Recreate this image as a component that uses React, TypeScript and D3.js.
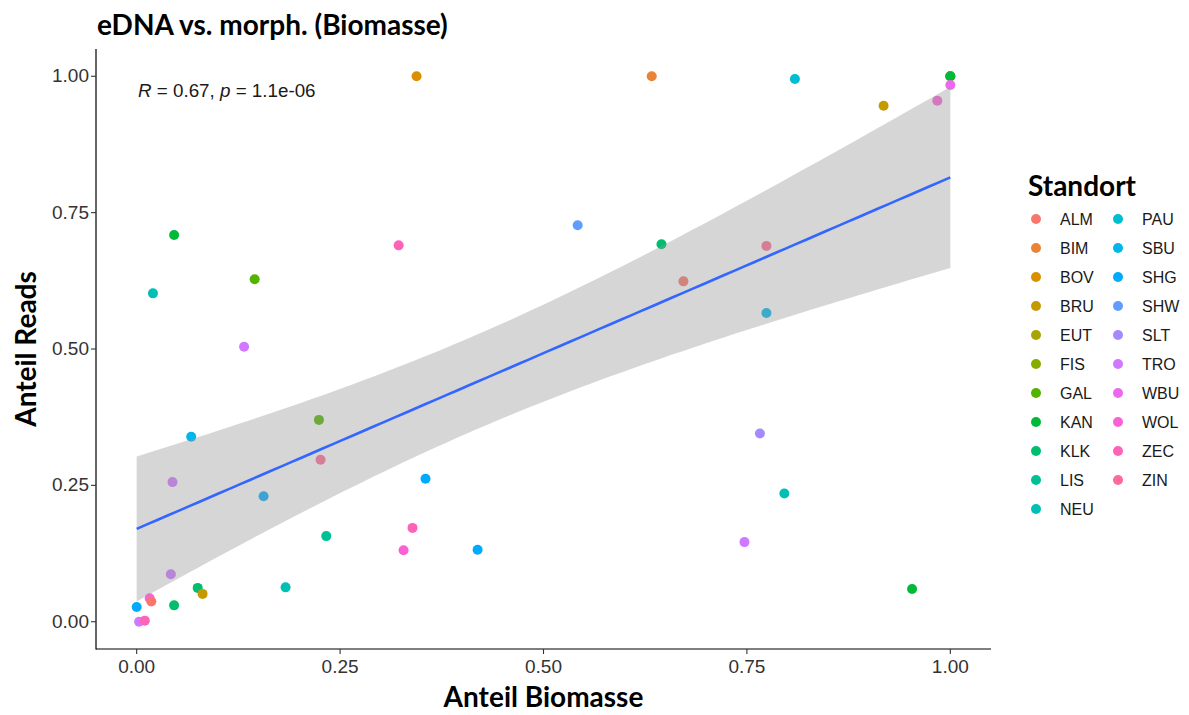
import React, { useMemo } from "react";
import * as d3 from "d3";

// Standort levels (ggplot default hue palette order)
const sites = [
  "ALM", "BIM", "BOV", "BRU", "EUT", "FIS", "GAL", "KAN", "KLK", "LIS", "NEU",
  "PAU", "SBU", "SHG", "SHW", "SLT", "TRO", "WBU", "WOL", "ZEC", "ZIN",
];

// points; EUT and FIS are hidden under KAN at (1, 1)
const pointSite = [
  "EUT", "FIS",
  "SHG", "TRO", "ZEC", "WOL", "ALM", "TRO", "KLK", "KLK", "BRU", "NEU",
  "TRO", "SBU", "SHG", "ZIN", "GAL", "LIS", "ZEC", "WOL", "SHG", "SHG",
  "KAN", "NEU", "GAL", "TRO", "ZEC", "BOV", "BIM", "PAU", "KAN", "WBU",
  "WOL", "BRU", "SHW", "KLK", "ZIN", "ALM", "SBU", "SLT", "NEU", "TRO",
  "KAN",
];
const biomasse = [
  1.0, 1.0,
  0.0, 0.003, 0.01, 0.016, 0.018, 0.042, 0.046, 0.075, 0.081, 0.183,
  0.044, 0.067, 0.156, 0.226, 0.224, 0.233, 0.339, 0.328, 0.355, 0.419,
  0.046, 0.02, 0.145, 0.132, 0.322, 0.344, 0.633, 0.809, 1.0, 1.0,
  0.984, 0.918, 0.542, 0.645, 0.774, 0.672, 0.774, 0.766, 0.796, 0.747,
  0.953,
];
const reads = [
  1.0, 1.0,
  0.027, 0.0, 0.002, 0.043, 0.037, 0.087, 0.03, 0.062, 0.051, 0.063,
  0.256, 0.339, 0.23, 0.297, 0.37, 0.157, 0.172, 0.131, 0.262, 0.132,
  0.709, 0.602, 0.628, 0.504, 0.69, 1.0, 1.0, 0.995, 1.0, 0.984,
  0.955, 0.946, 0.727, 0.692, 0.689, 0.624, 0.566, 0.345, 0.235, 0.146,
  0.06,
];

const xTicks = [0, 0.25, 0.5, 0.75, 1];
const yTicks = [0, 0.25, 0.5, 0.75, 1];

// R's hcl() (polar LUV) -> hex, like scales::hue_pal
function hclLuv(h: number, c: number, l: number) {
  const Xn = 95.047, Yn = 100, Zn = 108.883;
  const den = Xn + 15 * Yn + 3 * Zn;
  const un = (4 * Xn) / den, vn = (9 * Yn) / den;
  const rad = (h * Math.PI) / 180;
  const u = c * Math.cos(rad), v = c * Math.sin(rad);
  const Y = Yn * Math.pow((l + 16) / 116, 3);
  const up = u / (13 * l) + un, vp = v / (13 * l) + vn;
  const X = (Y * 9 * up) / (4 * vp);
  const Z = (Y * (12 - 3 * up - 20 * vp)) / (4 * vp);
  const x = X / 100, y = Y / 100, z = Z / 100;
  const lin = [
    3.2404542 * x - 1.5371385 * y - 0.4985314 * z,
    -0.969266 * x + 1.8760108 * y + 0.041556 * z,
    0.0556434 * x - 0.2040259 * y + 1.0572252 * z,
  ];
  const g = lin.map((t) => {
    const s = t <= 0.0031308 ? 12.92 * t : 1.055 * Math.pow(t, 1 / 2.4) - 0.055;
    return Math.round(Math.max(0, Math.min(1, s)) * 255);
  });
  return d3.rgb(g[0], g[1], g[2]).formatHex();
}

const palette = sites.map((_, i) => hclLuv(15 + (360 / sites.length) * i, 100, 65));

// 97.5% t quantile (Cornish-Fisher approx.)
function tQuant(df: number) {
  const z = 1.959964;
  return (
    z +
    (z ** 3 + z) / (4 * df) +
    (5 * z ** 5 + 16 * z ** 3 + 3 * z) / (96 * df * df) +
    (3 * z ** 7 + 19 * z ** 5 + 17 * z ** 3 - 15 * z) / (384 * df ** 3)
  );
}

const W = 1189;
const H = 715;
const M = { left: 96, right: 991, top: 49, bottom: 649 };

export default function App() {
  const x = d3.scaleLinear().domain([-0.05, 1.05]).range([M.left, M.right]);
  const y = d3.scaleLinear().domain([-0.05, 1.05]).range([M.bottom, M.top]);
  const color = d3.scaleOrdinal<string, string>().domain(sites).range(palette);

  // geom_smooth(method = "lm") with 95% band
  const fit = useMemo(() => {
    const n = biomasse.length;
    const mx = d3.mean(biomasse)!;
    const my = d3.mean(reads)!;
    let sxx = 0, sxy = 0;
    for (let i = 0; i < n; i++) {
      sxx += (biomasse[i] - mx) ** 2;
      sxy += (biomasse[i] - mx) * (reads[i] - my);
    }
    const b = sxy / sxx;
    const a = my - b * mx;
    let rss = 0;
    for (let i = 0; i < n; i++) rss += (reads[i] - a - b * biomasse[i]) ** 2;
    const s = Math.sqrt(rss / (n - 2));
    const t = tQuant(n - 2);
    const [lo, hi] = d3.extent(biomasse) as [number, number];
    const grid = d3.range(80).map((i) => lo + ((hi - lo) * i) / 79);
    return grid.map((gx) => {
      const fv = a + b * gx;
      const se = s * Math.sqrt(1 / n + (gx - mx) ** 2 / sxx);
      return { x: gx, y: fv, lo: fv - t * se, hi: fv + t * se };
    });
  }, []);

  const band = d3
    .area<{ x: number; lo: number; hi: number }>()
    .x((d) => x(d.x))
    .y0((d) => y(d.lo))
    .y1((d) => y(d.hi))(fit);
  const line = d3
    .line<{ x: number; y: number }>()
    .x((d) => x(d.x))
    .y((d) => y(d.y))(fit);

  const sans = "'Liberation Sans', Arial, sans-serif";
  const narrow = "'Liberation Sans Narrow', 'Arial Narrow', 'Liberation Sans', sans-serif";
  const bold = "Lato, 'Open Sans', sans-serif";

  return (
    <svg width={W} height={H} style={{ position: "absolute", left: 0, top: 0 }}>
      <rect width={W} height={H} fill="#fff" />
      <text x={97} y={35} fontFamily={bold} fontWeight={700} fontSize={28} fill="#000">
        eDNA vs. morph. (Biomasse)
      </text>

      {/* points first, the ribbon goes on top of them */}
      <g>
        {biomasse.map((b, i) => (
          <circle key={i} cx={x(b)} cy={y(reads[i])} r={5} fill={color(pointSite[i])} />
        ))}
      </g>
      <path d={band ?? ""} fill="#999999" fillOpacity={0.4} />
      <path d={line ?? ""} fill="none" stroke="#3366FF" strokeWidth={2.6} />

      <text x={138} y={97} fontFamily={sans} fontSize={18.8} fill="#1a1a1a">
        <tspan fontStyle="italic">R</tspan> = 0.67, <tspan fontStyle="italic">p</tspan> = 1.1e-06
      </text>

      {/* axes */}
      <line x1={M.left} x2={M.left} y1={M.top} y2={M.bottom + 0.6} stroke="#000" strokeWidth={1.2} />
      <line x1={M.left} x2={M.right} y1={M.bottom} y2={M.bottom} stroke="#000" strokeWidth={1.2} />
      {xTicks.map((t) => (
        <g key={"x" + t}>
          <line x1={x(t)} x2={x(t)} y1={M.bottom} y2={M.bottom + 5} stroke="#333" strokeWidth={1.1} />
          <text x={x(t)} y={M.bottom + 24} textAnchor="middle" fontFamily={narrow} fontSize={19} fill="#333">
            {d3.format(".2f")(t)}
          </text>
        </g>
      ))}
      {yTicks.map((t) => (
        <g key={"y" + t}>
          <line x1={M.left - 5} x2={M.left} y1={y(t)} y2={y(t)} stroke="#333" strokeWidth={1.1} />
          <text x={M.left - 7} y={y(t) + 6} textAnchor="end" fontFamily={narrow} fontSize={19} fill="#333">
            {d3.format(".2f")(t)}
          </text>
        </g>
      ))}
      <text x={(M.left + M.right) / 2} y={707} textAnchor="middle" fontFamily={bold} fontWeight={700} fontSize={28} fill="#000">
        Anteil Biomasse
      </text>
      <text
        transform={`translate(36, ${(M.top + M.bottom) / 2}) rotate(-90)`}
        textAnchor="middle"
        fontFamily={bold}
        fontWeight={700}
        fontSize={28}
        fill="#000"
      >
        Anteil Reads
      </text>

      {/* legend */}
      <text x={1028} y={196} fontFamily={bold} fontWeight={700} fontSize={28} fill="#000">
        Standort
      </text>
      {sites.map((s, i) => {
        const col = i < 11 ? 0 : 1;
        const row = i < 11 ? i : i - 11;
        const lx = 1036 + col * 82;
        const ly = 219 + row * 29;
        return (
          <g key={s}>
            <circle cx={lx} cy={ly} r={5} fill={color(s)} />
            <text x={lx + 24} y={ly + 6} fontFamily={sans} fontSize={16} fill="#1a1a1a">
              {s}
            </text>
          </g>
        );
      })}
    </svg>
  );
}
